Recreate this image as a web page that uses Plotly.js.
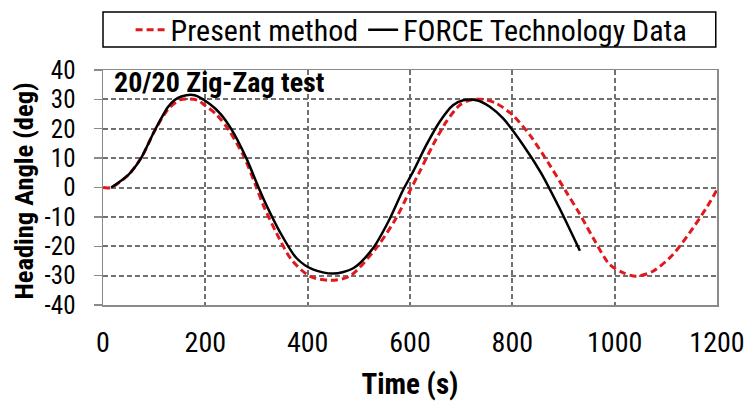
<!DOCTYPE html>
<html>
<head>
<meta charset="utf-8">
<script src="https://cdn.plot.ly/plotly-3.0.1.min.js"></script>
<style>html,body{margin:0;padding:0;background:#fff;}#chart{width:747px;height:401px;}</style>
</head>
<body>
<div id="chart"></div>
<script>
// Present method (red dashed)
const presentTime = [0, 16, 49, 75, 101, 127, 150, 170, 185, 199, 222, 246, 276, 300, 313, 339, 368, 404, 443, 482, 534, 573, 599, 619, 645, 671, 697, 717, 743, 769, 801, 834, 870, 905, 930, 958, 990, 1016, 1042, 1075, 1114, 1153, 1179, 1200];
const presentHeading = [0, 0, 4.2, 10.2, 19.3, 26.6, 29.8, 30.1, 29.7, 28, 24.8, 19.5, 10.3, 0, -5.9, -15.5, -24.5, -30.2, -31.6, -30.2, -20.6, -10.4, -1.4, 5.4, 14.5, 22.4, 28, 29.7, 30, 28.6, 24.6, 17.9, 8.5, -1.4, -8.5, -17.2, -26.2, -29, -30.2, -28.5, -22.8, -13.8, -7, -0.8];

// FORCE Technology Data (black solid)
const forceTime = [16, 49, 75, 101, 127, 140, 153, 179, 208, 230, 252, 280, 304, 319, 345, 378, 410, 450, 489, 528, 558, 586, 606, 632, 658, 684, 704, 730, 756, 782, 821, 856, 892, 932];
const forceHeading = [0, 4.2, 10.2, 19.4, 27.4, 29.8, 31, 31.4, 28.5, 25, 19.5, 10, 0, -5.9, -14.9, -24, -27.9, -29.3, -27.5, -20.6, -11.5, -1, 5.4, 14.5, 22.4, 28, 29.7, 29.7, 27.5, 23.5, 14.5, 5, -7, -21.5];

const xTicks = [0, 200, 400, 600, 800, 1000, 1200];
const yTicks = [-40, -30, -20, -10, 0, 10, 20, 30, 40];

const FONT = "'Liberation Sans Narrow', 'Arial Narrow', 'Roboto Condensed', Roboto, sans-serif";

const traces = [
  {
    x: presentTime, y: presentHeading, type: 'scatter', mode: 'lines',
    name: 'Present method',
    line: {color: '#e0191e', width: 3, dash: '7px,4px', shape: 'spline', smoothing: 0.8}
  },
  {
    x: forceTime, y: forceHeading, type: 'scatter', mode: 'lines',
    name: 'FORCE Technology Data',
    line: {color: '#000000', width: 2.5, shape: 'spline', smoothing: 0.8}
  }
];

const axisCommon = {
  showgrid: true, gridcolor: '#707070', gridwidth: 2, griddash: '5px,3px',
  showline: true, linecolor: '#8a8a8a', linewidth: 1.5, mirror: true,
  zeroline: false
};

const layout = {
  width: 747, height: 401,
  margin: {l: 103, r: 30, t: 70, b: 96, autoexpand: false},
  paper_bgcolor: '#fff', plot_bgcolor: '#fff',
  font: {family: FONT, color: '#000'},
  showlegend: true,
  legend: {
    orientation: 'h', xref: 'container', yref: 'container',
    x: 0.551, xanchor: 'center', y: 0.926, yanchor: 'middle',
    borderwidth: 0, bgcolor: 'rgba(0,0,0,0)',
    font: {family: FONT, size: 30, color: '#000'},
    itemwidth: 30
  },
  shapes: [{
    type: 'rect', xref: 'paper', yref: 'paper',
    x0: 0, x1: 0.998, y0: 1.098, y1: 1.2468,
    line: {color: '#000', width: 1.5}, fillcolor: 'rgba(0,0,0,0)', layer: 'above'
  }],
  xaxis: Object.assign({}, axisCommon, {
    range: [0, 1200], tickvals: xTicks, ticktext: xTicks.map(String),
    ticks: '', ticklabelstandoff: 12,
    tickfont: {family: FONT, size: 28, color: '#000'},
    title: {text: '<b>Time (s)</b>', font: {family: FONT, size: 29, color: '#000'}, standoff: 16}
  }),
  yaxis: Object.assign({}, axisCommon, {
    range: [-40, 40], tickvals: yTicks, ticktext: yTicks.map(String),
    ticks: 'outside', ticklen: 8, tickcolor: '#8a8a8a', tickwidth: 1.3,
    ticklabelstandoff: 13,
    tickfont: {family: FONT, size: 25, color: '#000'}
  }),
  annotations: [
    {
      text: '<b>20/20 Zig-Zag test</b>', xref: 'paper', yref: 'paper',
      x: 0.014, y: 1.01, yshift: 4, xanchor: 'left', yanchor: 'top', showarrow: false,
      font: {family: FONT, size: 28, color: '#000'}
    },
    {
      text: '<b>Heading Angle (deg)</b>', xref: 'paper', yref: 'paper',
      x: 0, xshift: -80, y: 0.5, yshift: -4, xanchor: 'center', yanchor: 'middle',
      textangle: -90, showarrow: false,
      font: {family: FONT, size: 26.5, color: '#000'}
    }
  ]
};

Plotly.newPlot('chart', traces, layout, {displayModeBar: false, staticPlot: true});
</script>
</body>
</html>
